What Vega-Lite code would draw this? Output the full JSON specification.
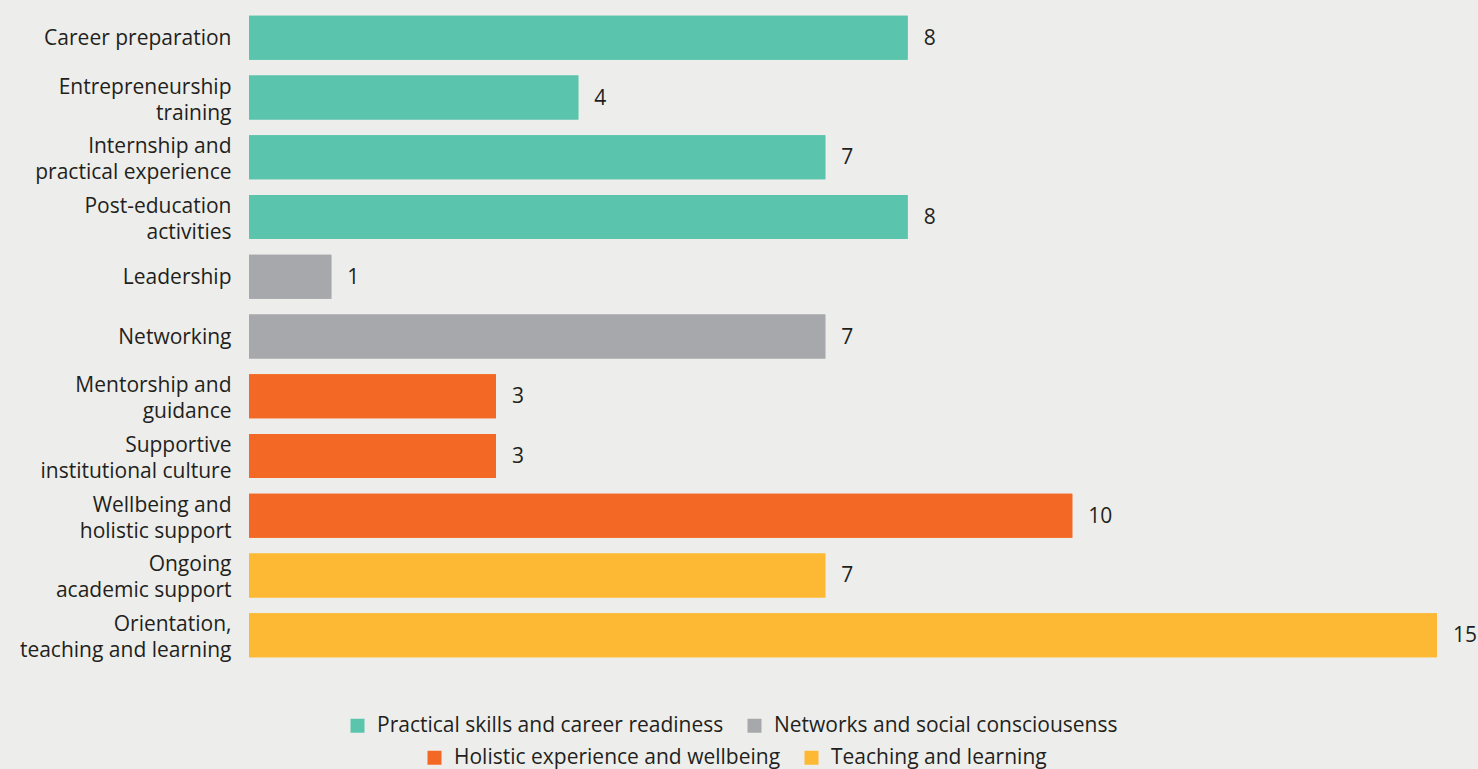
{
  "$schema": "https://vega.github.io/schema/vega-lite/v6.json",
  "width": 1188,
  "height": 657,
  "autosize": {"type": "none"},
  "padding": {"left": 249, "top": 8, "right": 41, "bottom": 104},
  "background": "#EDEEEB",
  "config": {"view": {"stroke": null}, "font": "Open Sans"},
  "data": {
    "values": [
      {"item": "Career preparation", "value": 8, "group": "Practical skills and career readiness"},
      {"item": "Entrepreneurship\ntraining", "value": 4, "group": "Practical skills and career readiness"},
      {"item": "Internship and\npractical experience", "value": 7, "group": "Practical skills and career readiness"},
      {"item": "Post-education\nactivities", "value": 8, "group": "Practical skills and career readiness"},
      {"item": "Leadership", "value": 1, "group": "Networks and social consciousenss"},
      {"item": "Networking", "value": 7, "group": "Networks and social consciousenss"},
      {"item": "Mentorship and\nguidance", "value": 3, "group": "Holistic experience and wellbeing"},
      {"item": "Supportive\ninstitutional culture", "value": 3, "group": "Holistic experience and wellbeing"},
      {"item": "Wellbeing and\nholistic support", "value": 10, "group": "Holistic experience and wellbeing"},
      {"item": "Ongoing\nacademic support", "value": 7, "group": "Teaching and learning"},
      {"item": "Orientation,\nteaching and learning", "value": 15, "group": "Teaching and learning"}
    ]
  },
  "encoding": {
    "y": {
      "field": "item", "type": "nominal", "sort": null,
      "scale": {"paddingInner": 0.263, "paddingOuter": 0.1315},
      "axis": {
        "title": null, "ticks": false, "domain": false, "labelPadding": 18,
        "labelFontSize": 21, "labelColor": "#231F20", "labelLimit": 400,
        "labelLineHeight": 26, "labelExpr": "split(datum.value, '\\n')",
        "labelOffset": {"condition": {"test": "indexof(datum.value, '\\n') >= 0", "value": -10}, "value": 1}
      }
    },
    "x": {
      "field": "value", "type": "quantitative",
      "scale": {"domain": [0, 14.43], "clamp": true, "nice": false},
      "axis": null
    }
  },
  "layer": [
    {
      "mark": {"type": "bar"},
      "encoding": {
        "color": {
          "field": "group", "type": "nominal",
          "scale": {
            "domain": ["Practical skills and career readiness", "Networks and social consciousenss", "Holistic experience and wellbeing", "Teaching and learning"],
            "range": ["#5BC4AC", "#A7A8AB", "#F46825", "#FDB933"]
          },
          "legend": {
            "title": null, "orient": "none", "direction": "horizontal",
            "legendX": 98, "legendY": 707, "padding": 0,
            "values": ["Practical skills and career readiness", "Networks and social consciousenss"],
            "symbolType": "square", "symbolSize": 196, "symbolStrokeWidth": 0, "symbolOpacity": 1,
            "labelFontSize": 21, "labelColor": "#231F20", "labelOffset": 9, "columnPadding": 20, "labelLimit": 500
          }
        }
      }
    },
    {
      "mark": {"type": "bar"},
      "encoding": {
        "color": {
          "field": "group", "type": "nominal",
          "scale": {
            "domain": ["Practical skills and career readiness", "Networks and social consciousenss", "Holistic experience and wellbeing", "Teaching and learning"],
            "range": ["#5BC4AC", "#A7A8AB", "#F46825", "#FDB933"]
          },
          "legend": {
            "title": null, "orient": "none", "direction": "horizontal",
            "legendX": 175, "legendY": 739, "padding": 0,
            "values": ["Holistic experience and wellbeing", "Teaching and learning"],
            "symbolType": "square", "symbolSize": 196, "symbolStrokeWidth": 0, "symbolOpacity": 1,
            "labelFontSize": 21, "labelColor": "#231F20", "labelOffset": 9, "columnPadding": 20, "labelLimit": 500
          }
        }
      }
    },
    {
      "mark": {"type": "text", "align": "left", "baseline": "middle", "dx": 16, "dy": 1, "fontSize": 21, "color": "#231F20"},
      "encoding": {"text": {"field": "value", "type": "quantitative"}}
    }
  ],
  "resolve": {"scale": {"color": "independent"}}
}
